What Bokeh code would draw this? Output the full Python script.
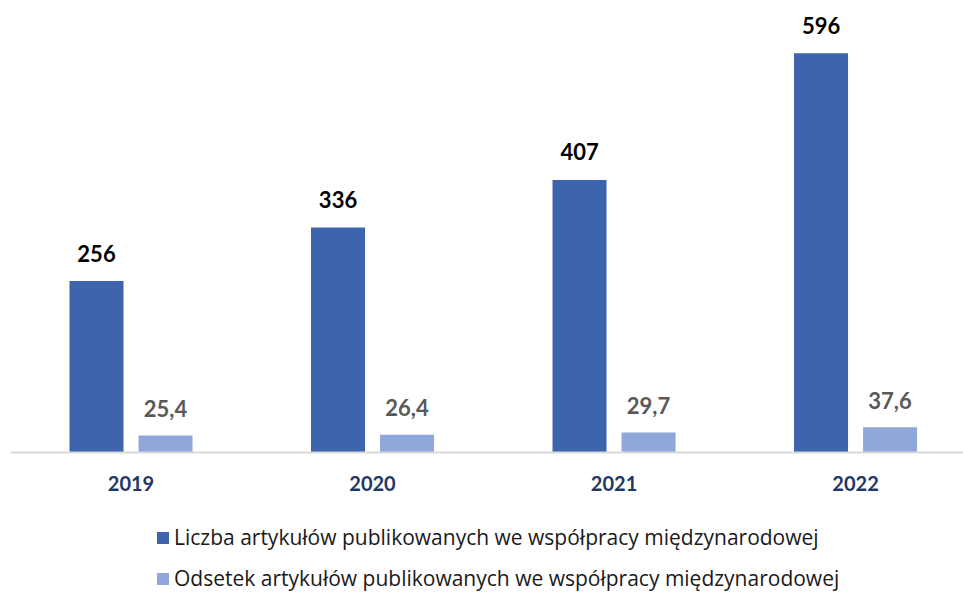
from bokeh.plotting import figure
from bokeh.models import ColumnDataSource, Range1d, Legend, LegendItem, Span
from bokeh.transform import dodge
from bokeh.core.properties import value
from bokeh.embed import file_html
from bokeh.resources import INLINE

years = ["2019", "2020", "2021", "2022"]
liczba = [256, 336, 407, 596]
odsetek = [25.4, 26.4, 29.7, 37.6]
series_names = [
    "Liczba artykułów publikowanych we współpracy międzynarodowej",
    "Odsetek artykułów publikowanych we współpracy międzynarodowej",
]

FONT = "Lato"
LEG_FONT = "Open Sans"
DARK = "#3D64AD"
LIGHT = "#8FA7D9"

idx = list(range(len(years)))
src = ColumnDataSource(dict(
    x=idx,
    year=years,
    zero=[0] * len(years),
    liczba=liczba,
    odsetek=odsetek,
    lab1=[str(v) for v in liczba],
    lab2=[f"{v:.1f}".replace(".", ",") for v in odsetek],
))

p = figure(width=963, height=592, output_backend="svg", toolbar_location=None,
           x_range=Range1d(-0.499, 3.447), y_range=Range1d(-209.05, 660),
           min_border_left=10, min_border_right=0, min_border_top=10, min_border_bottom=0)
p.outline_line_color = None
p.grid.visible = False
p.xaxis.visible = False
p.yaxis.visible = False

baseline = Span(location=0, dimension="width", line_color="#D9D9D9", line_width=2)
p.add_layout(baseline)

off = 0.1429
w = 0.2236
r1 = p.vbar(x=dodge("x", -off, range=p.x_range), top="liczba", width=w, source=src,
            fill_color=DARK, line_color=None)
r2 = p.vbar(x=dodge("x", off, range=p.x_range), top="odsetek", width=w, source=src,
            fill_color=LIGHT, line_color=None)

p.text(x=dodge("x", -off, range=p.x_range), y="liczba", text="lab1", source=src,
       text_align="center", text_baseline="middle", y_offset=-28,
       text_font=value(FONT), text_font_style="bold", text_font_size="22px",
       text_color="#000000")
p.text(x=dodge("x", off, range=p.x_range), y="odsetek", text="lab2", source=src,
       text_align="center", text_baseline="middle", y_offset=-27,
       text_font=value(FONT), text_font_style="bold", text_font_size="22px",
       text_color="#595959")

# category (year) labels under the baseline
p.text(x="x", y="zero", text="year", source=src,
       text_align="center", text_baseline="middle", y_offset=31,
       text_font=value(FONT), text_font_style="bold", text_font_size="20px",
       text_color="#1F3864")

legend = Legend(items=[LegendItem(label=series_names[0], renderers=[r1]),
                       LegendItem(label=series_names[1], renderers=[r2])],
                location=(145, 0), orientation="vertical",
                glyph_width=15, glyph_height=15, label_height=26,
                label_standoff=4, spacing=13, padding=0, margin=0,
                label_text_font=LEG_FONT, label_text_font_size="21px",
                label_text_color="#1A1A1A", border_line_color=None,
                background_fill_alpha=0)
p.add_layout(legend, "center")

open("out.html", "w").write(file_html(p, INLINE))
